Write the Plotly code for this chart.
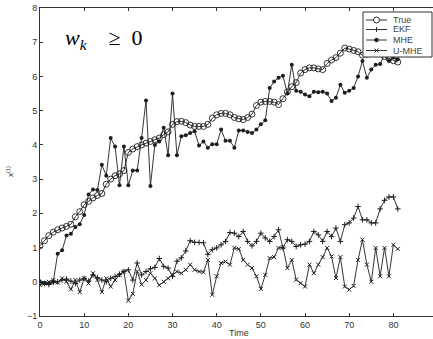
import plotly.graph_objects as go

time = list(range(0, 82))

true_x = [1.05, 1.2, 1.35, 1.45, 1.52, 1.57, 1.62, 1.68, 1.9, 2.05,
          2.25, 2.35, 2.45, 2.52, 2.58, 2.85, 3.0, 3.1, 3.15, 3.25,
          3.78, 3.88, 3.95, 4.0, 4.05, 4.1, 4.15, 4.2, 4.3, 4.38,
          4.6, 4.68, 4.69, 4.65, 4.58, 4.54, 4.54, 4.54, 4.6, 4.78,
          4.88, 4.92, 4.92, 4.88, 4.8, 4.76, 4.74, 4.8, 4.9, 5.15,
          5.25, 5.27, 5.27, 5.25, 5.18, 5.35, 5.55, 5.7, 5.82, 6.1,
          6.2, 6.25, 6.25, 6.22, 6.2, 6.38, 6.48, 6.55, 6.68, 6.83,
          6.8, 6.76, 6.72, 6.62, 6.65, 6.7, 6.75, 6.7, 6.58, 6.52,
          6.46, 6.42]

ekf = [0.0, -0.05, -0.08, -0.02, 0.0, 0.05, 0.08, 0.02, -0.05, 0.05,
       0.1, 0.02, 0.2, 0.12, 0.05, 0.0, 0.1, 0.15, 0.22, 0.3,
       0.35, 0.05, 0.55, 0.2, 0.3, 0.38, 0.42, 0.68, 0.45, 0.4,
       0.16, 0.6, 0.7, 0.9, 1.2, 1.15, 1.15, 1.14, 0.8, 0.94,
       0.99, 1.08, 1.18, 1.44, 1.42, 1.32, 1.47, 1.18, 1.05, 1.18,
       1.42, 1.28, 1.18, 1.32, 1.52, 0.99, 1.23, 1.18, 1.03, 1.08,
       1.1, 1.18, 1.47, 1.37, 1.18, 1.47, 1.32, 1.57, 1.18, 1.67,
       1.72, 1.86, 2.2, 1.81, 1.81, 1.72, 1.72, 2.13, 2.38, 2.48,
       2.48, 2.13]

mhe = [0.0, -0.03, -0.05, 0.0, 0.82, 0.92, 1.35, 1.4, 1.6, 1.68,
       1.95, 2.55, 2.7, 2.68, 3.42, 3.1, 4.2, 3.95, 2.82, 3.95,
       2.82, 3.25, 3.25, 4.2, 5.3, 2.8, 4.0, 4.1, 4.5, 3.7,
       5.5, 3.7, 4.25, 4.28, 4.35, 4.4, 3.98, 4.1, 3.92, 4.02,
       4.02, 4.45, 4.12, 4.12, 3.92, 4.42, 4.42, 4.38, 4.35, 4.45,
       4.6, 4.72, 5.66, 5.85, 5.96, 6.02, 5.5, 6.34, 5.58, 5.55,
       5.47, 5.42, 5.55, 5.54, 5.55, 5.5, 5.28, 5.38, 5.76, 5.52,
       5.58, 5.66, 6.0, 6.45, 5.96, 6.2, 6.34, 6.36, 6.65, 6.45,
       6.55, 6.5]

umhe = [-0.1, -0.05, 0.0, 0.05, -0.02, 0.1, 0.0, -0.22, 0.05, -0.3,
        0.1, -0.05, 0.25, 0.05, -0.3, 0.1, -0.14, 0.05, 0.2, 0.3,
        -0.55, -0.35, 0.3, -0.08, 0.05, 0.25, 0.1, -0.1, 0.0, 0.1,
        0.2, 0.3, 0.25, 0.35, 0.5, 0.35, 0.3, 0.28, 0.64, -0.38,
        0.16, 0.55, 0.59, 0.5, 0.99, 0.96, 0.64, 0.5, 0.4, 0.16,
        -0.21, 0.2, 0.69, 0.72, 0.99, 1.01, 0.4, 0.64, 0.06, -0.04,
        -0.14, 0.5, 0.25, 0.5, 0.72, 0.99, 0.74, 0.11, 0.72, -0.14,
        -0.23, -0.12, 0.64, 1.23, 0.5, 0.0, 0.99, 0.16, 0.99, 0.16,
        1.08, 0.96]

series_names = ["True", "EKF", "MHE", "U-MHE"]
x_ticks = [0, 10, 20, 30, 40, 50, 60, 70, 80]
y_ticks = [-1, 0, 1, 2, 3, 4, 5, 6, 7, 8]

W, H = 433, 339
ML, MR, MT, MB = 40, 0, 8, 23
PW, PH = W - ML - MR, H - MT - MB


def px(xp):
    return (xp - ML) / PW


def py(yp):
    return (H - MB - yp) / PH


LC = "#1e1e1e"
fig = go.Figure()
fig.add_trace(go.Scatter(x=time, y=true_x, name=series_names[0], mode="lines+markers",
                         line=dict(color=LC, width=0.9),
                         marker=dict(symbol="circle-open", size=6, color=LC, line=dict(width=0.9))))
fig.add_trace(go.Scatter(x=time, y=ekf, name=series_names[1], mode="lines+markers",
                         line=dict(color=LC, width=0.9),
                         marker=dict(symbol="cross-thin-open", size=4, color=LC, line=dict(width=1, color=LC))))
fig.add_trace(go.Scatter(x=time, y=mhe, name=series_names[2], mode="lines+markers",
                         line=dict(color=LC, width=0.9),
                         marker=dict(symbol="circle", size=4, color=LC)))
fig.add_trace(go.Scatter(x=time, y=umhe, name=series_names[3], mode="lines+markers",
                         line=dict(color=LC, width=0.9),
                         marker=dict(symbol="x-thin-open", size=4, color=LC, line=dict(width=1, color=LC))))

axis_font = dict(family="Liberation Sans, Arial, sans-serif", size=9, color="#333")
fig.update_layout(
    width=W, height=H,
    margin=dict(l=ML, r=MR, t=MT, b=MB),
    paper_bgcolor="white", plot_bgcolor="white",
    showlegend=False,
    xaxis=dict(range=[0, 88.97], tickvals=x_ticks, ticks="inside", ticklen=3,
               showline=True, linecolor="#333", linewidth=1, mirror="ticks",
               showgrid=False, zeroline=False, tickfont=axis_font, tickcolor="#333"),
    yaxis=dict(range=[-1, 8], tickvals=y_ticks, ticks="inside", ticklen=3,
               showline=True, linecolor="#333", linewidth=1, mirror=False,
               showgrid=False, zeroline=False, tickfont=axis_font, tickcolor="#333"),
)

# custom compact legend (MATLAB style)
shapes = []
shapes.append(dict(type="rect", xref="paper", yref="paper",
                   x0=px(363), x1=px(432), y0=py(57), y1=py(12),
                   fillcolor="white", line=dict(color="#333", width=1), layer="above"))
row_y = [20, 29.5, 40, 50.5]
lx0, lx1, mx = 366, 387, 376.5
for i, ry in enumerate(row_y):
    shapes.append(dict(type="line", xref="paper", yref="paper",
                       x0=px(lx0), x1=px(lx1), y0=py(ry), y1=py(ry),
                       line=dict(color=LC, width=0.9), layer="above"))
    if i == 0:
        shapes.append(dict(type="circle", xref="paper", yref="paper",
                           x0=px(mx - 3), x1=px(mx + 3), y0=py(ry + 3), y1=py(ry - 3),
                           fillcolor="white", line=dict(color=LC, width=0.9), layer="above"))
    elif i == 1:
        shapes.append(dict(type="line", xref="paper", yref="paper",
                           x0=px(mx), x1=px(mx), y0=py(ry + 2.5), y1=py(ry - 2.5),
                           line=dict(color=LC, width=0.9), layer="above"))
    elif i == 2:
        shapes.append(dict(type="circle", xref="paper", yref="paper",
                           x0=px(mx - 2), x1=px(mx + 2), y0=py(ry + 2), y1=py(ry - 2),
                           fillcolor=LC, line=dict(color=LC, width=0.5), layer="above"))
    else:
        for d in (1, -1):
            shapes.append(dict(type="line", xref="paper", yref="paper",
                               x0=px(mx - 2), x1=px(mx + 2), y0=py(ry + 2 * d), y1=py(ry - 2 * d),
                               line=dict(color=LC, width=0.9), layer="above"))
    fig.add_annotation(xref="paper", yref="paper", x=px(391), y=py(ry), xanchor="left", yanchor="middle",
                       text=series_names[i], showarrow=False,
                       font=dict(family="Liberation Sans, Arial, sans-serif", size=9, color="#444"))
fig.update_layout(shapes=shapes)

fig.add_annotation(xref="paper", yref="paper", x=0.0585, y=0.899, xanchor="left", yanchor="middle",
                   text="<i>w</i><sub><i>k</i></sub>\u2003≥\u20020", showarrow=False,
                   font=dict(family="Liberation Serif, DejaVu Serif, serif", size=22, color="black"))
fig.add_annotation(xref="paper", yref="paper", x=px(239), y=py(333), xanchor="center", yanchor="middle",
                   text="Time", showarrow=False, font=dict(family="Liberation Sans, Arial, sans-serif", size=9, color="#333"))
fig.add_annotation(xref="paper", yref="paper", x=px(10), y=py(172), xanchor="center", yanchor="middle",
                   text="x<sup>(1)</sup>", textangle=-90, showarrow=False,
                   font=dict(family="Liberation Sans, Arial, sans-serif", size=8, color="#333"))

fig.write_html("out.html",
               config={"displayModeBar": False},
               post_script="document.body.style.margin='0';document.body.style.overflow='hidden';")
